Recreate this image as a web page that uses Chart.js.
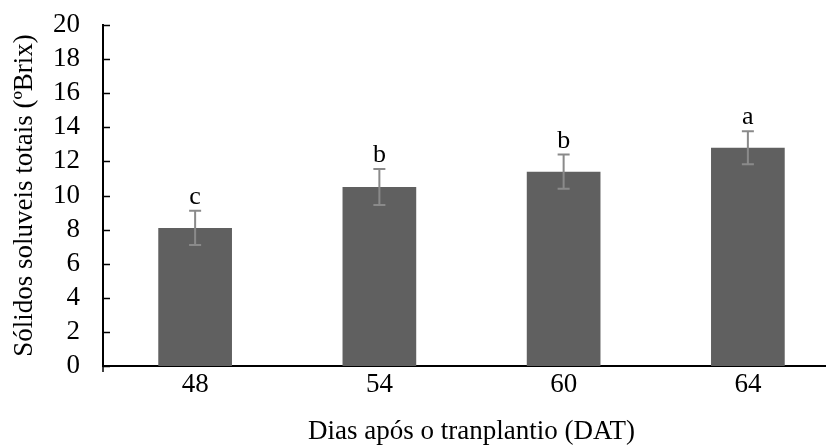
<!DOCTYPE html>
<html>
<head>
<meta charset="utf-8">
<script src="https://cdn.jsdelivr.net/npm/chart.js@4.4.1/dist/chart.umd.min.js"></script>
<style>
  html, body { margin: 0; padding: 0; background: #fff; overflow: hidden; }
  #wrap { width: 826px; height: 448px; overflow: hidden; }
</style>
</head>
<body>
<div id="wrap"><canvas id="chart" width="840" height="448"></canvas></div>
<script>
// data
const days = ['48', '54', '60', '64'];
const brix = [8.1, 10.5, 11.4, 12.8];
const brixErr = [1.0, 1.05, 1.0, 0.97];
const letters = ['c', 'b', 'b', 'a'];
const yTicks = [0, 2, 4, 6, 8, 10, 12, 14, 16, 18, 20];

const serif = '"Liberation Serif", "Times New Roman", serif';
const fontSize = 27;

// error bars + significance letters + inward tick marks
const extrasPlugin = {
  id: 'extras',
  afterDatasetsDraw(chart) {
    const ctx = chart.ctx;
    const x = chart.scales.x;
    const y = chart.scales.y;
    const meta = chart.getDatasetMeta(0);
    ctx.save();
    meta.data.forEach((bar, i) => {
      const cx = bar.x;
      const top = y.getPixelForValue(brix[i] + brixErr[i]);
      const bot = y.getPixelForValue(brix[i] - brixErr[i]);
      ctx.strokeStyle = '#8a8a8a';
      ctx.lineWidth = 2;
      ctx.beginPath();
      ctx.moveTo(cx, top); ctx.lineTo(cx, bot);
      ctx.moveTo(cx - 6, top); ctx.lineTo(cx + 6, top);
      ctx.moveTo(cx - 6, bot); ctx.lineTo(cx + 6, bot);
      ctx.stroke();
      ctx.fillStyle = '#000';
      ctx.font = (fontSize - 1) + 'px ' + serif;
      ctx.textAlign = 'center';
      ctx.textBaseline = 'alphabetic';
      ctx.fillText(letters[i], cx, top - 7);
    });
    // inward tick marks on y axis
    ctx.strokeStyle = '#000';
    ctx.lineWidth = 1.5;
    ctx.beginPath();
    yTicks.forEach(v => {
      const py = Math.round(y.getPixelForValue(v)) + 0.5;
      ctx.moveTo(x.left, py); ctx.lineTo(x.left + 7, py);
    });
    // axis stub below x axis
    ctx.moveTo(x.left, y.bottom); ctx.lineTo(x.left, y.bottom + 6);
    ctx.stroke();
    ctx.restore();
  }
};

new Chart(document.getElementById('chart'), {
  type: 'bar',
  data: {
    labels: days,
    datasets: [{
      data: brix,
      backgroundColor: '#606060',
      borderWidth: 0,
      barPercentage: 0.8,
      categoryPercentage: 0.5
    }]
  },
  options: {
    responsive: false,
    animation: false,
    layout: { padding: { top: 25, right: 0, left: 0, bottom: 0 } },
    plugins: { legend: { display: false }, tooltip: { enabled: false } },
    scales: {
      x: {
        grid: { display: false, drawTicks: false },
        border: { display: true, color: '#000', width: 2 },
        ticks: { color: '#000', font: { family: serif, size: fontSize }, padding: 3, autoSkip: false },
        title: {
          display: true,
          text: 'Dias após o tranplantio (DAT)',
          color: '#000',
          font: { family: serif, size: fontSize },
          padding: { top: 4, bottom: 0 }
        },
        afterFit(scale) {
          scale.height = 82;
          scale.paddingLeft = 0;
          scale.paddingRight = 0;
        }
      },
      y: {
        min: 0,
        max: 20,
        afterBuildTicks(scale) { scale.ticks = yTicks.map(v => ({ value: v })); },
        grid: { display: false, drawTicks: false },
        border: { display: true, color: '#000', width: 2 },
        ticks: { color: '#000', font: { family: serif, size: fontSize }, padding: 23, autoSkip: false },
        title: {
          display: true,
          text: 'Sólidos soluveis totais (ºBrix)',
          color: '#000',
          font: { family: serif, size: fontSize },
          padding: { top: 9, bottom: 0 }
        },
        afterFit(scale) {
          scale.width = 103;
          scale.paddingTop = 0;
          scale.paddingBottom = 0;
        }
      }
    }
  },
  plugins: [extrasPlugin]
});
</script>
</body>
</html>
